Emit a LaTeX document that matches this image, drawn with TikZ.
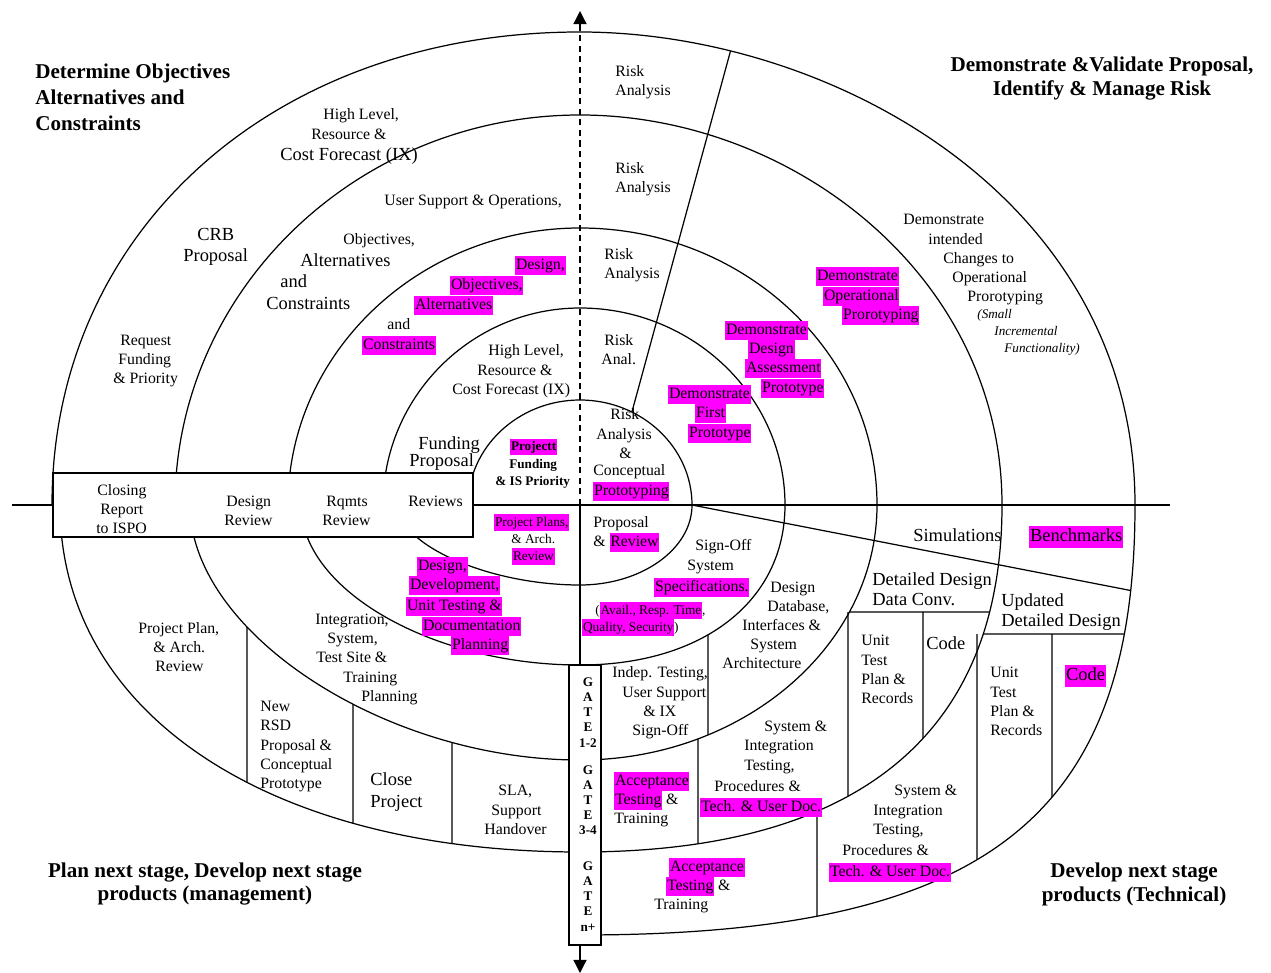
\documentclass[tikz,border=0pt]{standalone}
\usepackage{fontspec}
\setmainfont{Liberation Serif}
\usetikzlibrary{arrows.meta,intersections}
\definecolor{hlmag}{RGB}{255,0,255}
% magenta highlight behind a run of text
\newcommand\hl[1]{{\setlength{\fboxsep}{0.4pt}\colorbox{hlmag}{\rule[-0.29em]{0pt}{1.12em}#1}}}
% vertical divider between two named arcs: name, x, upper arc, lower arc
\newcommand\vdiv[4]{%
  \path[name path=#1] (#2,400) -- (#2,973);
  \path[name intersections={of=#1 and #3,by=#1a}];
  \path[name intersections={of=#1 and #4,by=#1b}];
  \draw[sp] (#1a) -- (#1b);}
% vertical divider from a fixed top down to a named arc: name, x, ytop, arc
\newcommand\vdrop[4]{%
  \coordinate (#1a) at (#2,#3);
  \path[name path=#1] (#2,#3+6) -- (#2,973);
  \path[name intersections={of=#1 and #4,by=#1b}];
  \draw[sp] (#1a) -- (#1b);}
\tikzset{
  sp/.style={line width=0.7pt},
  lbl/.style={anchor=west, inner sep=0pt, font=\fontsize{9}{10.8}\selectfont, text height=7.4pt, text depth=3pt},
  big/.style={font=\fontsize{10.5}{12.6}\selectfont, text height=8.6pt, text depth=3.4pt},
  sml/.style={font=\fontsize{7.6}{9.1}\selectfont, text height=6.3pt, text depth=2.6pt},
  smb/.style={font=\bfseries\fontsize{7.5}{9}\selectfont, text height=6.3pt, text depth=2.6pt},
  ita/.style={font=\itshape\fontsize{7.5}{9}\selectfont, text height=6.3pt, text depth=2.6pt},
  ttl/.style={inner sep=0pt, align=center},
  gate/.style={font=\bfseries\fontsize{7.5}{8.6}\selectfont, inner sep=0pt, align=center},
  frame/.style={sp, draw, fill=white, inner sep=0pt},
  tip/.style={-{Triangle[length=7.5pt,width=7.5pt]}}
}
\begin{document}
\begin{tikzpicture}[x=0.02cm,y=-0.02cm]
\useasboundingbox (0,0) rectangle (1271,973);

% ---------- spiral, one quarter at a time ----------
% turn 1
\draw[sp,name path=tl1] (468,505) .. controls (468,447.25) and (518.4,400) .. (580,400);
\draw[sp,name path=tr1] (580,400) .. controls (641.6,400) and (692,447.25) .. (692,505);
\draw[sp,name path=br1] (692,505) .. controls (692,549) and (641.6,585) .. (580,585);
\draw[sp,name path=bl1] (580,585) .. controls (489,585) and (398,545) .. (398,505);
% turn 2
\draw[sp,name path=tl2] (383,505) .. controls (383,396.65) and (471.65,308) .. (580,308);
\draw[sp,name path=tr2] (580,308) .. controls (692.75,308) and (785,396.65) .. (785,505);
\draw[sp,name path=br2] (785,505) .. controls (785,601) and (703,665) .. (580,665);
\draw[sp,name path=bl2] (580,665) .. controls (432.1,665) and (301,589.8) .. (301,505);
% turn 3
\draw[sp,name path=tl3] (288,505) .. controls (288,352.65) and (419.4,228) .. (580,228);
\draw[sp,name path=tr3] (580,228) .. controls (743.35,228) and (877,352.65) .. (877,505);
\draw[sp,name path=br3] (877,505) .. controls (877,645.25) and (743.35,760) .. (580,760);
\draw[sp,name path=bl3] (580,760) .. controls (385,760) and (190,632.5) .. (190,505);
% turn 4
\draw[sp,name path=tl4] (175,505) .. controls (175,290.5) and (357.25,115) .. (580,115);
\draw[sp,name path=tr4] (580,115) .. controls (791,115) and (1002,275) .. (1002,505);
\draw[sp,name path=br4] (1002,505) .. controls (1002,734) and (858.5,852) .. (580,852);
\draw[sp,name path=bl4] (580,852) .. controls (268,852) and (60,713.2) .. (60,505);
% turn 5
\draw[sp,name path=tl5] (52,505) .. controls (52,230.7) and (273.8,32) .. (580,32);
\draw[sp,name path=tr5] (580,32) .. controls (829.75,32) and (1135,197.5) .. (1135,505);
\draw[sp,name path=br5] (1135,505) .. controls (1135,818.9) and (985.15,935) .. (580,935);

% ---------- dividers ----------
\vdiv{va}{247}{bl3}{bl4}
\vdiv{vb}{353}{bl3}{bl4}
\vdiv{vc}{452}{bl3}{bl4}
\vdiv{vd}{708}{br2}{br3}
\vdiv{ve}{698}{br3}{br4}
\vdiv{vf}{817}{br4}{br5}

\path[name path=ha] (800,612) -- (1100,612);
\path[name intersections={of=ha and br3,by=ha1}];
\path[name intersections={of=ha and br4,by=ha2}];
\draw[sp] (ha1) -- (ha2);
\vdrop{vg}{848}{612}{br4}
\vdrop{vh}{923}{612}{br4}

\path[name path=hb] (940,634) -- (1200,634);
\path[name intersections={of=hb and br4,by=hb1}];
\path[name intersections={of=hb and br5,by=hb2}];
\draw[sp] (hb1) -- (hb2);
\vdrop{vi}{977}{634}{br5}
\vdrop{vj}{1052}{634}{br5}

% risk column boundary
\path[name path=dA] (618.8,460) -- (739,20);
\path[name intersections={of=dA and tr1,by=dA1}];
\path[name intersections={of=dA and tr5,by=dA2}];
\draw[sp] (dA1) -- (dA2);

% simulation boundary
\coordinate (c1) at (692,505);
\path[name path=dB] (c1) -- (1200,604);
\path[name intersections={of=dB and br5,by=dB2}];
\draw[sp] (c1) -- (dB2);

% ---------- axes and frames ----------
\coordinate (O) at (580,505);
\coordinate (axL) at (12,505);
\coordinate (axR) at (1170,505);
\coordinate (axT) at (580,11);
\coordinate (axB) at (580,973);
\draw[sp] (axL) -- (axR);
\draw[sp, dash pattern=on 3.5pt off 2.5pt, tip] (O) -- (axT);

\node[frame, minimum width=0.64cm, minimum height=5.6cm] (gate) at (585,805) {};
\draw[sp] (O) -- (O |- gate.north);
\draw[sp, tip] (axB |- gate.south) -- (axB);
\node[frame, minimum width=8.4cm, minimum height=1.28cm] (revbox) at (263,505) {};

\begin{scope}[yshift=-0.04cm]
\node[gate] (g1) at (588,710.5) {G\\A\\T\\E\\1-2};
\node[gate] (g2) at (588,798) {G\\A\\T\\E\\3-4};
\node[gate] (g3) at (588,894.5) {G\\A\\T\\E\\n+};

% ---------- quadrant titles ----------
\node[ttl, anchor=west, align=left, font=\bfseries\fontsize{12}{14.7}\selectfont] (tA) at (35,95) {Determine Objectives\\Alternatives and\\Constraints};
\node[ttl, font=\bfseries\fontsize{12}{14.2}\selectfont] (tB) at (1102,76.5) {Demonstrate \&Validate Proposal,\\Identify \& Manage Risk};
\node[ttl, font=\bfseries\fontsize{12}{13.6}\selectfont] (tC) at (205,882) {Plan next stage, Develop next stage\\products (management)};
\node[ttl, font=\bfseries\fontsize{12}{13.6}\selectfont] (tD) at (1134,882) {Develop next stage\\products (Technical)};

% ---------- risk column ----------
\node[lbl] (rA1) at (615,71) {Risk};
\node[lbl] (rA2) at (615,90) {Analysis};
\node[lbl] (rB1) at (615,168) {Risk};
\node[lbl] (rB2) at (615,187) {Analysis};
\node[lbl] (rC1) at (604,254) {Risk};
\node[lbl] (rC2) at (604,273) {Analysis};
\node[lbl] (rD1) at (604,340) {Risk};
\node[lbl] (rD2) at (601,359) {Anal.};
\node[lbl] (rE1) at (610,414) {Risk};
\node[lbl] (rE2) at (596,434) {Analysis};
\node[lbl] (rE3) at (619,453) {\&};
\node[lbl] (rE4) at (593,470) {Conceptual};
\node[lbl] (rE5) at (593,490) {\hl{Prototyping}};

% ---------- upper left ----------
\node[lbl] (hA1) at (323,114) {High Level,};
\node[lbl] (hA2) at (311,134) {Resource \&};
\node[lbl,big] (hA3) at (280,154) {Cost Forecast (IX)};
\node[lbl] (us) at (384,200) {User Support \& Operations,};
\node[lbl,big] (crb1) at (197,234) {CRB};
\node[lbl,big] (crb2) at (183,255) {Proposal};
\node[lbl] (oA1) at (343,239) {Objectives,};
\node[lbl,big] (oA2) at (300,260) {Alternatives};
\node[lbl,big] (oA3) at (280,281) {and};
\node[lbl,big] (oA4) at (266,303) {Constraints};
\node[lbl] (oB1) at (515,264) {\hl{Design,}};
\node[lbl] (oB2) at (450,284) {\hl{Objectives,}};
\node[lbl] (oB3) at (414,304) {\hl{Alternatives}};
\node[lbl] (oB4) at (387,324) {and};
\node[lbl] (oB5) at (362,344) {\hl{Constraints}};
\node[lbl] (rq1) at (120,340) {Request};
\node[lbl] (rq2) at (118,359) {Funding};
\node[lbl] (rq3) at (113,378) {\& Priority};
\node[lbl] (hB1) at (488,350) {High Level,};
\node[lbl] (hB2) at (477,370) {Resource \&};
\node[lbl] (hB3) at (452,389) {Cost Forecast (IX)};
\node[lbl,big] (fp1) at (418,443) {Funding};
\node[lbl,big] (fp2) at (409,460) {Proposal};
\node[lbl,smb] (pf1) at (510,445) {\hl{Projectt}};
\node[lbl,smb] (pf2) at (509,463) {Funding};
\node[lbl,smb] (pf3) at (495,480) {\& IS Priority};

% ---------- review box ----------
\node[lbl] (cl1) at (97,490) {Closing};
\node[lbl] (cl2) at (100,509) {Report};
\node[lbl] (cl3) at (96,528) {to ISPO};
\node[lbl] (dr1) at (226,501) {Design};
\node[lbl] (dr2) at (224,520) {Review};
\node[lbl] (rr1) at (326,501) {Rqmts};
\node[lbl] (rr2) at (322,520) {Review};
\node[lbl] (rv) at (408,501) {Reviews};

% ---------- centre, lower half ----------
\node[lbl,sml] (pp1) at (494,521) {\hl{Project Plans,}};
\node[lbl,sml] (pp2) at (511,538) {\& Arch.};
\node[lbl,sml] (pp3) at (512,555) {\hl{Review}};
\node[lbl] (pr1) at (593,522) {Proposal};
\node[lbl] (pr2) at (593,541) {\& \hl{Review}};
\node[lbl] (dv1) at (417,565) {\hl{Design,}};
\node[lbl] (dv2) at (409,584) {\hl{Development,}};
\node[lbl] (dv3) at (406,605) {\hl{Unit Testing \&}};
\node[lbl] (dv4) at (422,625) {\hl{Documentation}};
\node[lbl] (dv5) at (451,644) {\hl{Planning}};
\node[lbl] (so1) at (695,545) {Sign-Off};
\node[lbl] (so2) at (687,565) {System};
\node[lbl] (so3) at (654,586) {\hl{Specifications.}};
\node[lbl,sml] (av1) at (595,609) {(\hl{Avail., Resp. Time},};
\node[lbl,sml] (av2) at (582,626) {\hl{Quality, Security})};

% ---------- upper right ----------
\node[lbl] (op1) at (816,275) {\hl{Demonstrate}};
\node[lbl] (op2) at (823,295) {\hl{Operational}};
\node[lbl] (op3) at (842,314) {\hl{Prorotyping}};
\node[lbl] (ch1) at (903,219) {Demonstrate};
\node[lbl] (ch2) at (928,239) {intended};
\node[lbl] (ch3) at (943,258) {Changes to};
\node[lbl] (ch4) at (952,277) {Operational};
\node[lbl] (ch5) at (967,296) {Prorotyping};
\node[lbl,ita] (ch6) at (977,313) {(Small};
\node[lbl,ita] (ch7) at (994,330) {Incremental};
\node[lbl,ita] (ch8) at (1004,347) {Functionality)};
\node[lbl] (da1) at (725,329) {\hl{Demonstrate}};
\node[lbl] (da2) at (748,348) {\hl{Design}};
\node[lbl] (da3) at (745,367) {\hl{Assessment}};
\node[lbl] (da4) at (761,387) {\hl{Prototype}};
\node[lbl] (fs1) at (668,393) {\hl{Demonstrate}};
\node[lbl] (fs2) at (695,412) {\hl{First}};
\node[lbl] (fs3) at (688,432) {\hl{Prototype}};

% ---------- lower right ----------
\node[lbl,big] (sim) at (913,535) {Simulations};
\node[lbl,big] (bm) at (1029,535) {\hl{Benchmarks}};
\node[lbl,big] (ddA1) at (872,579) {Detailed Design};
\node[lbl,big] (ddA2) at (872,599) {Data Conv.};
\node[lbl,big] (ddB1) at (1001,600) {Updated};
\node[lbl,big] (ddB2) at (1001,620) {Detailed Design};
\node[lbl] (utA1) at (861,640) {Unit};
\node[lbl] (utA2) at (861,660) {Test};
\node[lbl] (utA3) at (861,679) {Plan \&};
\node[lbl] (utA4) at (861,698) {Records};
\node[lbl,big] (cdA) at (926,643) {Code};
\node[lbl] (utB1) at (990,672) {Unit};
\node[lbl] (utB2) at (990,692) {Test};
\node[lbl] (utB3) at (990,711) {Plan \&};
\node[lbl] (utB4) at (990,730) {Records};
\node[lbl,big] (cdB) at (1065,674) {\hl{Code}};
\node[lbl] (db1) at (770,587) {Design};
\node[lbl] (db2) at (767,606) {Database,};
\node[lbl] (db3) at (742,625) {Interfaces \&};
\node[lbl] (db4) at (750,644) {System};
\node[lbl] (db5) at (722,663) {Architecture};
\node[lbl] (it1) at (612,672) {Indep. Testing,};
\node[lbl] (it2) at (622,692) {User Support};
\node[lbl] (it3) at (643,711) {\& IX};
\node[lbl] (it4) at (632,730) {Sign-Off};
\node[lbl] (siA1) at (764,726) {System \&};
\node[lbl] (siA2) at (744,745) {Integration};
\node[lbl] (siA3) at (744,765) {Testing,};
\node[lbl] (siA4) at (714,786) {Procedures \&};
\node[lbl] (siA5) at (700,806) {\hl{Tech. \& User Doc.}};
\node[lbl] (atA1) at (614,780) {\hl{Acceptance}};
\node[lbl] (atA2) at (614,799) {\hl{Testing} \&};
\node[lbl] (atA3) at (614,818) {Training};
\node[lbl] (siB1) at (894,790) {System \&};
\node[lbl] (siB2) at (873,810) {Integration};
\node[lbl] (siB3) at (873,829) {Testing,};
\node[lbl] (siB4) at (842,850) {Procedures \&};
\node[lbl] (siB5) at (829,871) {\hl{Tech. \& User Doc.}};
\node[lbl] (atB1) at (669,866) {\hl{Acceptance}};
\node[lbl] (atB2) at (666,885) {\hl{Testing} \&};
\node[lbl] (atB3) at (654,904) {Training};

% ---------- lower left ----------
\node[lbl] (pl1) at (138,628) {Project Plan,};
\node[lbl] (pl2) at (153,647) {\& Arch.};
\node[lbl] (pl3) at (155,666) {Review};
\node[lbl] (ts1) at (315,619) {Integration,};
\node[lbl] (ts2) at (327,638) {System,};
\node[lbl] (ts3) at (316,657) {Test Site \&};
\node[lbl] (ts4) at (343,677) {Training};
\node[lbl] (ts5) at (361,696) {Planning};
\node[lbl] (rs1) at (260,706) {New};
\node[lbl] (rs2) at (260,725) {RSD};
\node[lbl] (rs3) at (260,745) {Proposal \&};
\node[lbl] (rs4) at (260,764) {Conceptual};
\node[lbl] (rs5) at (260,783) {Prototype};
\node[lbl,big] (cp1) at (370,779) {Close};
\node[lbl,big] (cp2) at (370,801) {Project};
\node[lbl] (sla1) at (498,790) {SLA,};
\node[lbl] (sla2) at (491,810) {Support};
\node[lbl] (sla3) at (484,829) {Handover};
\end{scope}
\end{tikzpicture}
\end{document}
